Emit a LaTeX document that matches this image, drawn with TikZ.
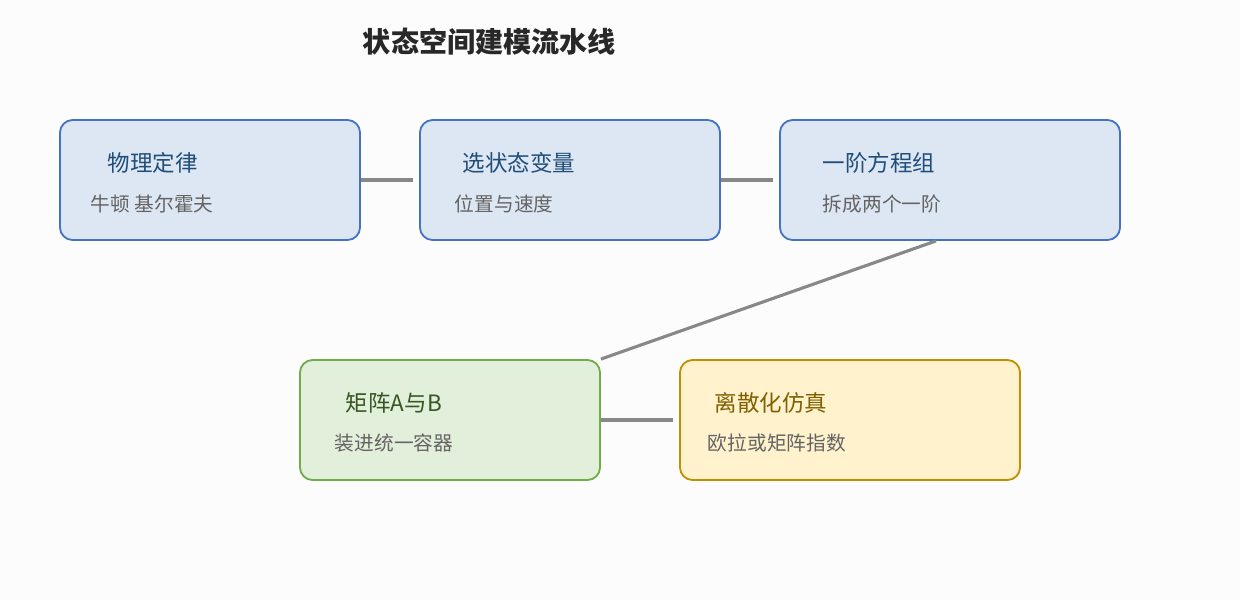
\documentclass[tikz,border=0pt]{standalone}
\usepackage{fontspec}
\setmainfont{Noto Sans CJK SC}
\begin{document}
\begin{tikzpicture}[x=0.025cm,y=-0.025cm,
 box/.style={draw,line width=1.3pt,rounded corners=9pt,minimum height=3cm,inner sep=0pt},
 blue/.style={box,fill={rgb,255:red,221;green,230;blue,243},draw={rgb,255:red,68;green,114;blue,196}},
 green/.style={box,fill={rgb,255:red,226;green,239;blue,218},draw={rgb,255:red,112;green,173;blue,71}},
 yellow/.style={box,fill={rgb,255:red,255;green,242;blue,204},draw={rgb,255:red,191;green,144;blue,0}},
 ttl/.style={anchor=west,font=\fontsize{16}{18}\selectfont},
 sub/.style={anchor=west,font=\fontsize{14}{16}\selectfont,text={rgb,255:red,100;green,100;blue,100}},
 con/.style={line width=2.2pt,draw={rgb,255:red,136;green,136;blue,136}}]
\fill[fill={rgb,255:red,252;green,252;blue,252}] (0,0) rectangle (1240,600);
\useasboundingbox (0,0) rectangle (1240,600);
\node[anchor=west,font=\bfseries\fontsize{20}{22}\selectfont,text={rgb,255:red,40;green,40;blue,40}] (t) at (358,42) {状态空间建模流水线};
\node[blue,minimum width=7.5cm] (n1) at (210,180) {};
\node[blue,minimum width=7.5cm] (n2) at (570,180) {};
\node[blue,minimum width=8.5cm] (n3) at (950,180) {};
\node[green,minimum width=7.5cm] (n4) at (450,420) {};
\node[yellow,minimum width=8.5cm] (n5) at (850,420) {};
\colorlet{tb}{blue!40!black}
\definecolor{tb}{RGB}{31,78,121}
\definecolor{tg}{RGB}{55,86,35}
\definecolor{ty}{RGB}{127,96,0}
\node[ttl,text=tb] (a1) at (103,163) {物理定律};
\node[sub] (b1) at (86,204) {牛顿 基尔霍夫};
\node[ttl,text=tb] (a2) at (458,163) {选状态变量};
\node[sub] (b2) at (450,204) {位置与速度};
\node[ttl,text=tb] (a3) at (818,163) {一阶方程组};
\node[sub] (b3) at (818,204) {拆成两个一阶};
\node[ttl,text=tg] (a4) at (341,403) {矩阵A与B};
\node[sub] (b4) at (330,443) {装进统一容器};
\node[ttl,text=ty] (a5) at (710,403) {离散化仿真};
\node[sub] (b5) at (703,443) {欧拉或矩阵指数};
\draw[con,shorten >=4pt] (n1.east) -- (n2.west);
\draw[con,shorten >=4pt] (n3.west) ++(0,0) coordinate (c3);
\draw[con,shorten <=0pt,shorten >=4pt] (n2.east) -- (n3.west);
\draw[con] ([xshift=-10pt]n3.south) -- (n4.north east);
\draw[con,shorten >=4pt] (n4.east) -- (n5.west);
\end{tikzpicture}
\end{document}
